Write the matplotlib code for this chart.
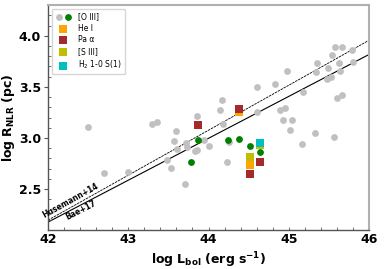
import numpy as np
import matplotlib
matplotlib.use('Agg')
import matplotlib.pyplot as plt
from matplotlib.legend_handler import HandlerTuple

# [O III] literature sample (gray)
lit_L = [42.50, 42.70, 43.00, 43.30, 43.36, 43.60, 43.57, 43.61, 43.48, 43.53, 43.71,
         43.72, 43.73, 43.83, 43.86, 43.86, 43.94, 44.01, 44.17, 44.14, 44.18, 44.23,
         44.26, 44.60, 44.61, 44.98, 44.83, 45.18, 44.89, 44.95, 44.93, 45.04, 45.02,
         45.33, 45.56, 45.16, 45.58, 45.66, 45.79, 45.54, 45.35, 45.34, 45.62, 45.64,
         45.49, 45.80, 45.53, 45.48, 45.66, 45.60]
lit_R = [3.11, 2.66, 2.67, 3.14, 3.16, 3.07, 2.97, 2.89, 2.78, 2.71, 2.55,
         2.95, 2.91, 2.87, 2.88, 3.22, 2.98, 2.92, 3.37, 3.27, 3.14, 2.77,
         2.96, 3.50, 3.25, 3.66, 3.53, 3.45, 3.27, 3.29, 3.18, 3.18, 3.08,
         3.05, 3.01, 2.94, 3.89, 3.89, 3.86, 3.81, 3.73, 3.65, 3.73, 3.66,
         3.68, 3.74, 3.60, 3.58, 3.42, 3.39]

# [O III] this work (green)
oiii_L = [43.87, 43.78, 44.24, 44.38, 44.52, 44.64]
oiii_R = [2.98, 2.77, 2.98, 2.99, 2.92, 2.86]

hei_L = [44.38, 44.52]
hei_R = [3.25, 2.74]
paa_L = [43.87, 44.38, 44.52, 44.64]
paa_R = [3.13, 3.28, 2.65, 2.77]
siii_L = [44.52, 44.64]
siii_R = [2.81, 2.93]
h2_L = [44.64]
h2_R = [2.95]

fig = plt.figure(figsize=(3.84, 2.69), dpi=100)
ax = fig.add_axes([0.125, 0.145, 0.836, 0.836])

xx = np.array([42, 46])
ax.plot(xx, 0.44 * xx - 16.284, color='k', lw=0.6, ls=(0, (3, 1)), zorder=1)
ax.plot(xx, 0.41 * xx - 15.043, color='k', lw=0.8, zorder=1)

g = ax.scatter(lit_L, lit_R, s=24, color='#c0c0c0', zorder=2, linewidths=0)
gr = ax.scatter(oiii_L, oiii_R, s=24, color='green', zorder=3, linewidths=0)
h1 = ax.scatter(hei_L, hei_R, s=38, marker='s', color='orange', zorder=3, linewidths=0)
pa = ax.scatter(paa_L, paa_R, s=38, marker='s', color='brown', zorder=4, linewidths=0)
s3 = ax.scatter(siii_L, siii_R, s=38, marker='s', color='y', zorder=3, linewidths=0)
h2 = ax.scatter(h2_L, h2_R, s=38, marker='s', color='c', zorder=4, linewidths=0)

ax.text(42.28, 2.385, 'Husemann+14', rotation=29, fontsize=5.5, fontweight='bold',
        ha='center', va='center')
ax.text(42.41, 2.29, 'Bae+17', rotation=27, fontsize=5.5, fontweight='bold',
        ha='center', va='center')

ax.set_xlim(42, 46)
ax.set_ylim(2.1, 4.3)
ax.set_xticks([42, 43, 44, 45, 46])
ax.set_yticks([2.5, 3.0, 3.5, 4.0])
ax.set_xticks(np.arange(42, 46.01, 0.2), minor=True)
ax.set_yticks(np.arange(2.1, 4.31, 0.1), minor=True)
ax.tick_params(axis='x', which='both', direction='in', length=2.5, width=0.6,
               colors='#555555', labelcolor='k', labelsize=9, pad=2)
ax.tick_params(axis='y', which='major', direction='out', length=3, width=0.8,
               colors='#555555', labelcolor='k', labelsize=9, pad=2)
ax.tick_params(axis='y', which='minor', direction='in', length=2, width=0.6, colors='#555555')
for lab in ax.get_xticklabels() + ax.get_yticklabels():
    lab.set_fontweight('bold')

for s in ['left', 'bottom']:
    ax.spines[s].set_color('#555555')
    ax.spines[s].set_linewidth(1.0)
for s in ['top', 'right']:
    ax.spines[s].set_color('#b0b0b0')
    ax.spines[s].set_linewidth(1.5)

ax.set_xlabel(r'$\mathbf{log\ L_{bol}\ (erg\ s^{-1})}$', fontsize=9, labelpad=3)
ax.set_ylabel(r'$\mathbf{log\ R_{NLR}\ (pc)}$', fontsize=9, labelpad=1)

ax.legend([(g, gr), h1, pa, s3, h2],
          ['[O III]', 'He I', 'Pa α', '[S III]', 'H$_2$ 1-0 S(1)'],
          handler_map={tuple: HandlerTuple(ndivide=None, pad=0.3)},
          loc='upper left', fontsize=5.5, frameon=True, borderpad=0.4,
          labelspacing=0.35, handletextpad=0.8, handlelength=2.2,
          bbox_to_anchor=(0.0, 1.0))

fig.savefig('out.png', dpi=100)
